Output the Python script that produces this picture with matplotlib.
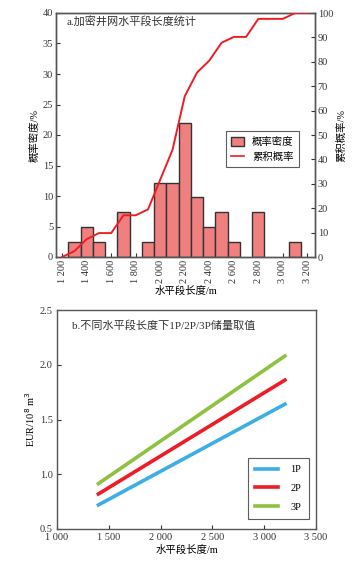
import matplotlib
matplotlib.use("Agg")
import matplotlib.pyplot as plt
from matplotlib.patches import Patch
from matplotlib.lines import Line2D
import numpy as np

plt.rcParams['font.family'] = ['Liberation Serif', 'Noto Sans CJK SC']
plt.rcParams['axes.unicode_minus'] = False

# ---- data panel a ----
bin_centers = [1300, 1400, 1500, 1700, 1900, 2000, 2100, 2200, 2300, 2400, 2500, 2600, 2800, 3100]
density = [2.44, 4.88, 2.44, 7.32, 2.44, 12.2, 12.2, 21.95, 9.76, 4.88, 7.32, 2.44, 7.32, 2.44]
cum_x = [1200, 1300, 1400, 1500, 1600, 1700, 1800, 1900, 2000, 2100, 2200, 2300, 2400, 2500,
         2600, 2700, 2800, 2900, 3000, 3100, 3200]
cum_y = [0, 2.4, 7.3, 9.8, 9.8, 17.1, 17.1, 19.5, 31.7, 43.9, 65.9, 75.6, 80.5, 87.8,
         90.2, 90.2, 97.6, 97.6, 97.6, 100, 100]
xticks_a = [1200, 1400, 1600, 1800, 2000, 2200, 2400, 2600, 2800, 3000, 3200]
xticklabels_a = ["1 200", "1 400", "1 600", "1 800", "2 000", "2 200", "2 400", "2 600",
                 "2 800", "3 000", "3 200"]

# ---- data panel b ----
len_b = [1400, 3200]
p1 = [0.72, 1.64]
p2 = [0.82, 1.86]
p3 = [0.915, 2.08]
xticks_b = [1000, 1500, 2000, 2500, 3000, 3500]
xticklabels_b = ["1 000", "1 500", "2 000", "2 500", "3 000", "3 500"]
yticks_b = [0.5, 1.0, 1.5, 2.0, 2.5]

W, H = 359, 569
fig = plt.figure(figsize=(W / 100, H / 100), dpi=100)

spine_c = '#555555'
fs = 7.5

def style(ax):
    for s in ax.spines.values():
        s.set_color(spine_c)
        s.set_linewidth(1.0)

# ---------- panel a ----------
ax = fig.add_axes([56 / W, 1 - 257 / H, 259 / W, 244 / H])
ax.bar(bin_centers, density, width=100, facecolor='#F08080', edgecolor='#333333',
       linewidth=1.0, zorder=2)
ax.set_xlim(1150, 3262)
ax.set_ylim(0, 40)
ax.set_yticks([0, 5, 10, 15, 20, 25, 30, 35, 40])
ax.set_xticks(xticks_a)
ax.set_xticklabels(xticklabels_a, rotation=90, fontsize=fs)
ax.tick_params(axis='both', direction='in', length=3, labelsize=fs, colors='#333333', pad=2)
ax.set_ylabel("概率密度/%", fontsize=fs, labelpad=2)
ax.set_xlabel("水平段长度/m", fontsize=fs, labelpad=2)
ax.text(0.042, 0.96, "a.加密井网水平段长度统计", transform=ax.transAxes, fontsize=fs + 0.5,
        va='center', ha='left', color='#333333')
style(ax)

ax2 = ax.twinx()
ax2.plot(cum_x, cum_y, color='#EE1C25', linewidth=1.4, zorder=3)
ax2.set_ylim(0, 100)
ax2.set_yticks(range(0, 101, 10))
ax2.tick_params(axis='y', direction='in', length=3, labelsize=fs, colors='#333333', pad=2)
ax2.set_ylabel("累积概率/%", fontsize=fs, labelpad=2)
style(ax2)

handles = [Patch(facecolor='#F08080', edgecolor='#333333', linewidth=1.0),
           Line2D([0], [0], color='#EE1C25', linewidth=1.2)]
leg = ax2.legend(handles, ["概率密度", "累积概率"], loc='upper left',
                 bbox_to_anchor=(0.656, 0.515), fontsize=fs, frameon=True, fancybox=False,
                 handlelength=1.2, handleheight=1.0, borderpad=0.5, labelspacing=0.5,
                 handletextpad=0.8, borderaxespad=0)
leg.get_frame().set_edgecolor('#333333')
leg.get_frame().set_linewidth(0.8)

# ---------- panel b ----------
bx = fig.add_axes([57 / W, 1 - 529 / H, 259 / W, 219 / H])
lw = 2.6
bx.plot(len_b, p1, color='#3BAEE3', linewidth=lw, label='1P')
bx.plot(len_b, p2, color='#EE1C25', linewidth=lw, label='2P')
bx.plot(len_b, p3, color='#8DC13F', linewidth=lw, label='3P')
bx.set_xlim(1000, 3500)
bx.set_ylim(0.5, 2.5)
bx.set_xticks(xticks_b)
bx.set_xticklabels(xticklabels_b, fontsize=fs)
bx.set_yticks(yticks_b)
bx.set_yticklabels([f"{v:.1f}" for v in yticks_b], fontsize=fs)
bx.tick_params(axis='both', direction='in', length=3, labelsize=fs, colors='#333333', pad=3)
bx.set_ylabel("EUR/10$^8$ m$^3$", fontsize=fs, labelpad=2)
bx.set_xlabel("水平段长度/m", fontsize=fs, labelpad=2)
bx.text(0.058, 0.93, "b.不同水平段长度下1P/2P/3P储量取值", transform=bx.transAxes,
        fontsize=fs + 0.5, va='center', ha='left', color='#333333')
style(bx)
leg2 = bx.legend(loc='upper left', bbox_to_anchor=(0.737, 0.326), fontsize=fs, frameon=True,
                 fancybox=False, handlelength=2.2, borderpad=0.7, labelspacing=0.9,
                 handletextpad=1.2, borderaxespad=0)
leg2.get_frame().set_edgecolor('#333333')
leg2.get_frame().set_linewidth(0.8)

fig.savefig("out.png", dpi=100)
